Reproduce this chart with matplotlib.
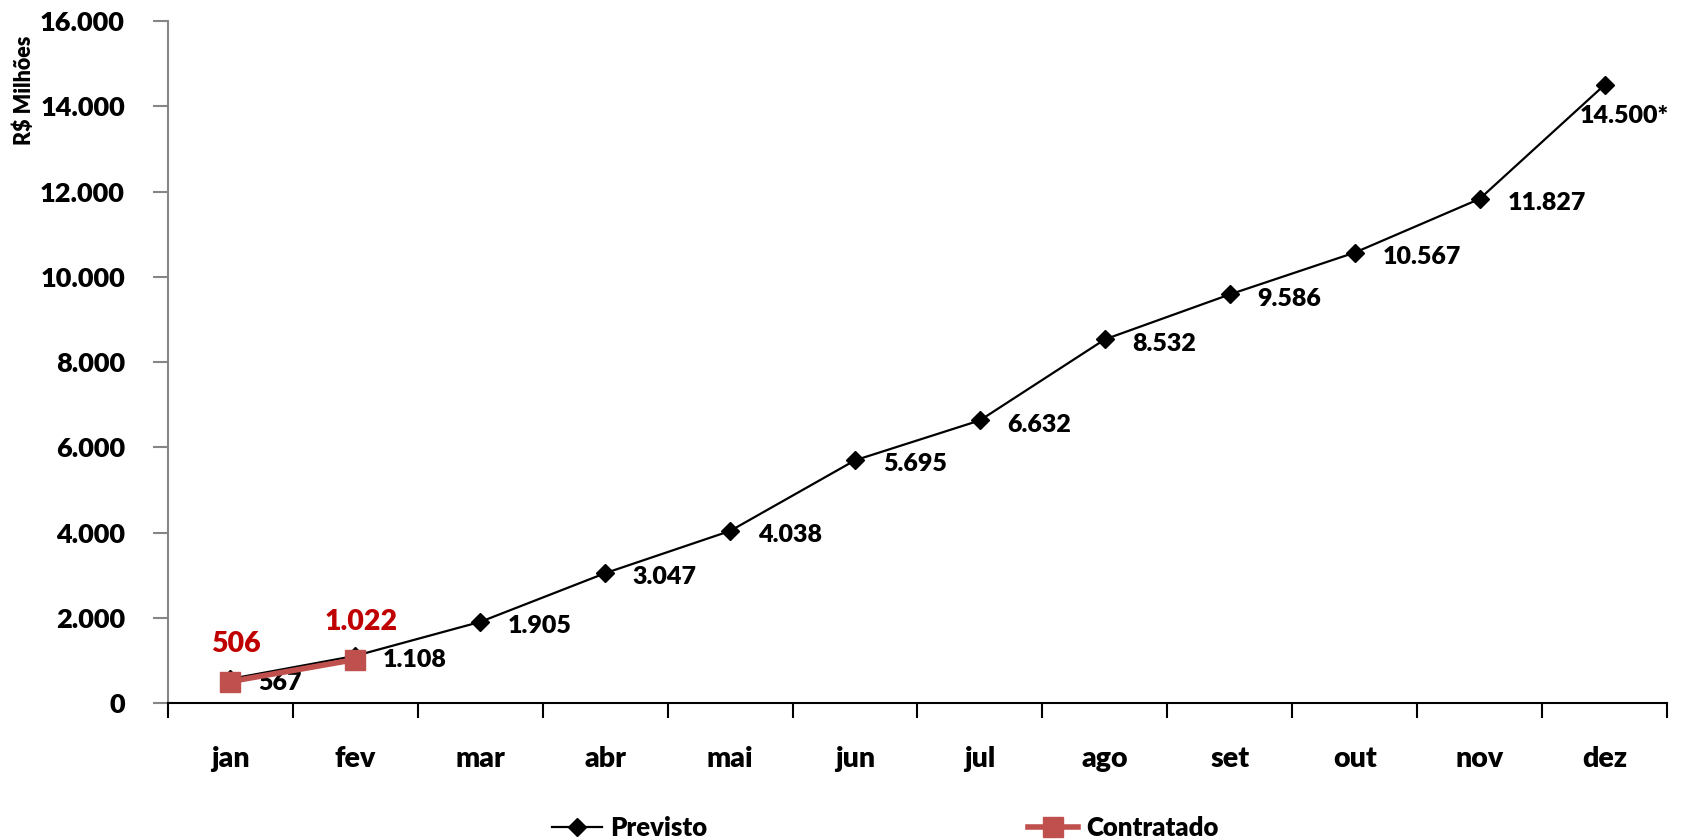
import matplotlib
matplotlib.use("Agg")
import matplotlib.pyplot as plt
import numpy as np
from matplotlib.ticker import FuncFormatter, FixedLocator

# data
MESES = ["jan", "fev", "mar", "abr", "mai", "jun", "jul", "ago", "set", "out", "nov", "dez"]
PREVISTO = [567, 1108, 1905, 3047, 4038, 5695, 6632, 8532, 9586, 10567, 11827, 14500]
CONTRATADO = [506, 1022]
Y_TICKS = [0, 2000, 4000, 6000, 8000, 10000, 12000, 14000, 16000]

C_PREV = "#000000"
C_CONT = "#C0504D"
C_LBL_CONT = "#C00000"
W = "heavy"

plt.rcParams["font.family"] = ["Lato", "DejaVu Sans"]
plt.rcParams["font.weight"] = W


def br(v):
    return f"{v:,.0f}".replace(",", ".")


fig = plt.figure(figsize=(16.83, 8.40), dpi=100)
ax = fig.add_axes([0.0998, 0.163, 0.8907, 0.812])

x = np.arange(len(MESES))
ax.plot(x, PREVISTO, color=C_PREV, lw=1.6, marker="D", ms=9, label="Previsto", zorder=3)
xc = np.arange(len(CONTRATADO))
ax.plot(xc, CONTRATADO, color=C_CONT, lw=4, marker="s", ms=14.5, label="Contratado", zorder=4)

# data labels
for i, v in enumerate(PREVISTO):
    txt = br(v)
    if i == len(PREVISTO) - 1:
        ax.annotate(txt + "*", (i, v), xytext=(14, -22), textcoords="offset points",
                    ha="center", va="center", fontsize=18, fontweight=W)
    else:
        ax.annotate(txt, (i, v), xytext=(20, -3), textcoords="offset points",
                    ha="left", va="center", fontsize=18, fontweight=W)
for i, v in enumerate(CONTRATADO):
    ax.annotate(br(v), (i, v), xytext=(4, 27), textcoords="offset points",
                ha="center", va="center", fontsize=20.5, fontweight=W,
                color=C_LBL_CONT)

ax.set_xlim(-0.5, len(MESES) - 0.5)
ax.set_ylim(0, 16000)
ax.yaxis.set_major_locator(FixedLocator(Y_TICKS))
ax.yaxis.set_major_formatter(FuncFormatter(lambda v, p: br(v)))

ax.set_xticks(np.arange(-0.5, len(MESES), 1.0))
ax.set_xticklabels([])
ax.set_xticks(x, minor=True)
ax.set_xticklabels(MESES, minor=True)
ax.tick_params(axis="x", which="major", length=11, width=1.5, color="black", direction="out")
ax.tick_params(axis="x", which="minor", length=0, pad=31, labelsize=20.5)
ax.tick_params(axis="y", length=11, width=1.5, color="#868686", pad=20, labelsize=19.5)
for lbl in ax.get_xticklabels(minor=True) + ax.get_yticklabels():
    lbl.set_fontweight(W)

for s in ("top", "right"):
    ax.spines[s].set_visible(False)
ax.spines["left"].set_color("#868686")
ax.spines["left"].set_linewidth(1.5)
ax.spines["bottom"].set_color("black")
ax.spines["bottom"].set_linewidth(1.5)

fig.text(0.0145, 0.893, "R$ Milhões", rotation=90, ha="center", va="center",
         fontsize=15.5, fontweight=W)

fig.legend(loc="center", bbox_to_anchor=(0.526, 0.014), ncol=2, frameon=False,
           handlelength=1.95, handletextpad=0.3, columnspacing=12.5,
           prop={"weight": W, "size": 18.5})

fig.savefig("out.png", dpi=100)
